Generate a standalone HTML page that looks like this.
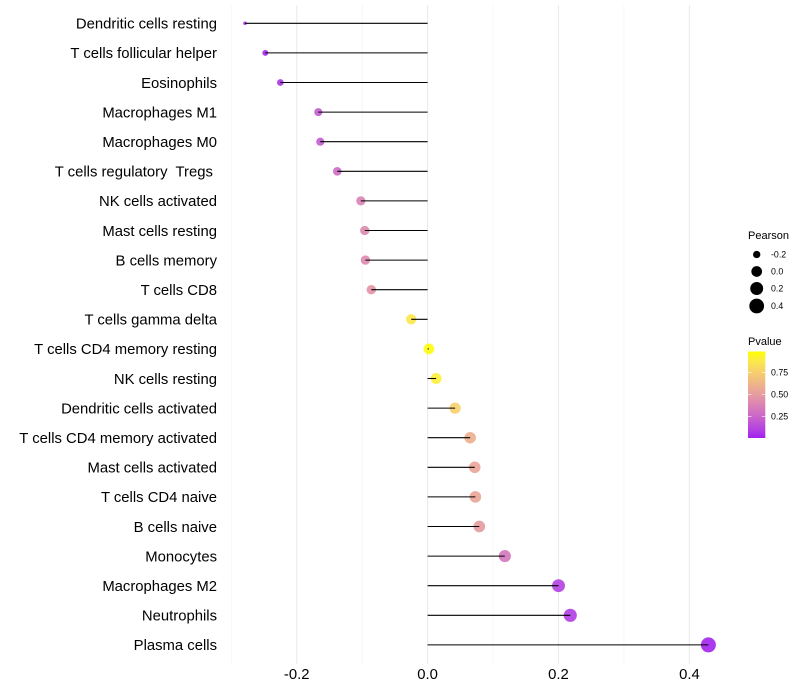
<!DOCTYPE html>
<html>
<head>
<meta charset="utf-8">
<title>Immune cell correlation lollipop chart</title>
<style>
html,body{margin:0;padding:0;background:#fff;}
svg{display:block;font-family:"Liberation Sans",Arial,sans-serif;}
text{white-space:pre;}
</style>
</head>
<body>
<svg id="chart" xmlns="http://www.w3.org/2000/svg" width="800" height="700" viewBox="0 0 800 700"></svg>
<script>
const categories = ["Dendritic cells resting","T cells follicular helper","Eosinophils","Macrophages M1","Macrophages M0","T cells regulatory  Tregs ","NK cells activated","Mast cells resting","B cells memory","T cells CD8","T cells gamma delta","T cells CD4 memory resting","NK cells resting","Dendritic cells activated","T cells CD4 memory activated","Mast cells activated","T cells CD4 naive","B cells naive","Monocytes","Macrophages M2","Neutrophils","Plasma cells"];
const pearson = [-0.279,-0.248,-0.225,-0.167,-0.164,-0.138,-0.102,-0.096,-0.095,-0.086,-0.025,0.002,0.013,0.042,0.065,0.072,0.073,0.079,0.118,0.2,0.218,0.429];
const pvalue = [0.02,0.02,0.05,0.2,0.2,0.27,0.38,0.42,0.42,0.47,0.88,0.99,0.93,0.76,0.6,0.55,0.55,0.5,0.32,0.1,0.08,0.01];
const xMajorTicks = [-0.2,0,0.2,0.4];
const xMinorTicks = [-0.3,-0.1,0.1,0.3];
const sizeLegendValues = [-0.2,0,0.2,0.4];
const colorLegendValues = [0.25,0.5,0.75];

const svg = document.getElementById('chart');
const NS = 'http://www.w3.org/2000/svg';
function mk(tag, attrs, text){
  const el = document.createElementNS(NS, tag);
  for (const k in attrs) el.setAttribute(k, attrs[k]);
  if (text !== undefined) el.textContent = text;
  svg.appendChild(el);
  return el;
}
const xScale = v => 427.6 + v * 654.5;
const yScale = i => 23.3 + i * 29.6;
const sizeMin = -0.279, sizeMax = 0.429;
const sizeScale = v => {
  const t = Math.min(1, Math.max(0, (v - sizeMin) / (sizeMax - sizeMin)));
  return (3.5 + 11.5 * Math.sqrt(t)) / 2;
};
const pTop = 351.5, pBottom = 438;
const pScale = p => 438.5 - p * 88;

function lab(rgb){
  const f = rgb.map(c => { c/=255; return c>0.04045?Math.pow((c+0.055)/1.055,2.4):c/12.92; });
  const X=(0.4124*f[0]+0.3576*f[1]+0.1805*f[2])/0.95047, Y=0.2126*f[0]+0.7152*f[1]+0.0722*f[2], Z=(0.0193*f[0]+0.1192*f[1]+0.9505*f[2])/1.08883;
  const g=t=>t>0.008856?Math.cbrt(t):7.787*t+16/116;
  return [116*g(Y)-16,500*(g(X)-g(Y)),200*(g(Y)-g(Z))];
}
function unlab(L){
  const fy=(L[0]+16)/116, fx=fy+L[1]/500, fz=fy-L[2]/200;
  const h=t=>t*t*t>0.008856?t*t*t:(t-16/116)/7.787;
  const X=h(fx)*0.95047,Y=h(fy),Z=h(fz)*1.08883;
  const r=[3.2406*X-1.5372*Y-0.4986*Z,-0.9689*X+1.8758*Y+0.0415*Z,0.0557*X-0.2040*Y+1.0570*Z];
  return 'rgb('+r.map(c=>{c=c>0.0031308?1.055*Math.pow(c,1/2.4)-0.055:12.92*c;return Math.round(Math.min(1,Math.max(0,c))*255);}).join(',')+')';
}
const labLow = lab([160,32,240]), labHigh = lab([255,255,0]);
const colorScale = p => unlab(labLow.map((c,i)=>c+(labHigh[i]-c)*p));

xMinorTicks.forEach(v => {
  const l = mk('line',{x1:xScale(v),x2:xScale(v),y1:5,y2:664,stroke:'#f0f0f0','stroke-width':0.55});
  
  
});
xMajorTicks.forEach(v => {
  const l = mk('line',{x1:xScale(v),x2:xScale(v),y1:5,y2:664,stroke:'#ebebeb','stroke-width':1.07});
  
  
  const t = mk('text',{x:xScale(v),y:679,'text-anchor':'middle','font-size':14.85,fill:'#000'},v.toFixed(1));
  
  
});
categories.forEach((name,i) => {
  const t = mk('text',{x:217,y:yScale(i)+5.3,'text-anchor':'end','font-size':14.85,fill:'#000'},name);
  
  
  const c = mk('circle',{cx:xScale(pearson[i]),cy:yScale(i),r:sizeScale(pearson[i]),fill:colorScale(pvalue[i]),'fill-opacity':0.9});
  
  
  const l = mk('line',{x1:xScale(0),x2:xScale(pearson[i]),y1:yScale(i),y2:yScale(i),stroke:'#000','stroke-width':1.07});
  
  
});

const pearsonTitle = mk('text',{x:748,y:239,'font-size':11,fill:'#000'},'Pearson');


const sizeLegendY = [254.5,271.5,288.5,306];
sizeLegendValues.forEach((v,i) => {
  const c = mk('circle',{cx:756.7,cy:sizeLegendY[i],r:sizeScale(v),fill:'#000'});
  
  
  const t = mk('text',{x:771,y:sizeLegendY[i]+3.1,'font-size':8.8,fill:'#000'},v.toFixed(1));
  
  
});

const pvalueTitle = mk('text',{x:748,y:345,'font-size':11,fill:'#000'},'Pvalue');


const defs = mk('defs',{});
const grad = document.createElementNS(NS,'linearGradient');
grad.setAttribute('id','pgrad');
grad.setAttribute('x1','0');grad.setAttribute('x2','0');grad.setAttribute('y1','1');grad.setAttribute('y2','0');
for(let k=0;k<=10;k++){
  const s=document.createElementNS(NS,'stop');
  s.setAttribute('offset',(k*10)+'%');
  s.setAttribute('stop-color',colorScale(k/10));
  grad.appendChild(s);
}
defs.appendChild(grad);
const bar = mk('rect',{x:748,y:pTop,width:17.3,height:pBottom-pTop,fill:'url(#pgrad)'});


colorLegendValues.forEach(v => {
  const y = pScale(v);
  const a = mk('line',{x1:748,x2:751.5,y1:y,y2:y,stroke:'#fff','stroke-width':0.6});
  
  
  const b = mk('line',{x1:761.8,x2:765.3,y1:y,y2:y,stroke:'#fff','stroke-width':0.6});
  
  
  const t = mk('text',{x:771,y:y+3.1,'font-size':8.8,fill:'#000'},v.toFixed(2));
  
  
});
</script>
</body>
</html>
